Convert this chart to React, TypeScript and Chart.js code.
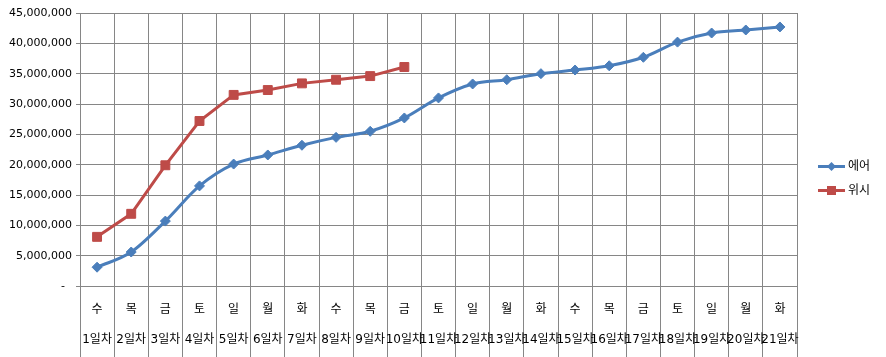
import React, { useEffect, useRef } from 'react';
import { Chart, registerables } from 'chart.js';

Chart.register(...registerables);

const weekdays = ['수', '목', '금', '토', '일', '월', '화', '수', '목', '금', '토', '일', '월', '화', '수', '목', '금', '토', '일', '월', '화'];
const dayLabels = ['1일차', '2일차', '3일차', '4일차', '5일차', '6일차', '7일차', '8일차', '9일차', '10일차', '11일차', '12일차', '13일차', '14일차', '15일차', '16일차', '17일차', '18일차', '19일차', '20일차', '21일차'];
const airValues = [3100000, 5600000, 10700000, 16500000, 20100000, 21600000, 23200000, 24500000, 25500000, 27700000, 31000000, 33300000, 34000000, 35000000, 35600000, 36300000, 37700000, 40200000, 41700000, 42200000, 42700000];
const wishValues = [8100000, 11900000, 19900000, 27200000, 31500000, 32300000, 33400000, 34000000, 34600000, 36100000];

const seriesNames = ['에어', '위시'];
const seriesColors = ['#4A7EBB', '#BE4B48'];
const GRID = '#868686';
const LABEL_FONT = '"DejaVu Sans", "Noto Sans CJK KR", sans-serif';

const legendPlugin = {
  id: 'customLegend',
  afterDraw(chart: any) {
    const ctx = chart.ctx;
    const area = chart.chartArea;
    const x0 = area.right + 21;
    const lineLen = 27;
    ctx.save();
    chart.data.datasets.forEach((ds: any, i: number) => {
      const y = chart.height / 2 - 12 + i * 24;
      ctx.strokeStyle = ds.borderColor;
      ctx.lineWidth = 3;
      ctx.beginPath();
      ctx.moveTo(x0, y);
      ctx.lineTo(x0 + lineLen, y);
      ctx.stroke();
      const cx = x0 + lineLen / 2;
      ctx.fillStyle = ds.borderColor;
      ctx.beginPath();
      if (ds.pointStyle === 'rectRot') {
        ctx.moveTo(cx - 4.5, y);
        ctx.lineTo(cx, y - 4.5);
        ctx.lineTo(cx + 4.5, y);
        ctx.lineTo(cx, y + 4.5);
        ctx.closePath();
      } else {
        ctx.rect(cx - 4.5, y - 4.5, 9, 9);
      }
      ctx.fill();
      ctx.fillStyle = '#000';
      ctx.font = '12px ' + LABEL_FONT;
      ctx.textBaseline = 'middle';
      ctx.textAlign = 'left';
      ctx.fillText(ds.label, x0 + lineLen + 3, y);
    });
    ctx.restore();
  },
};

export default function App() {
  const canvasRef = useRef<HTMLCanvasElement | null>(null);

  useEffect(() => {
    if (!canvasRef.current) return;
    const labels = weekdays.map((w, i) => [w, dayLabels[i]]);
    const chart = new Chart(canvasRef.current, {
      type: 'line',
      data: {
        labels,
        datasets: [
          {
            label: seriesNames[0],
            data: airValues,
            borderColor: seriesColors[0],
            backgroundColor: seriesColors[0],
            borderWidth: 3,
            pointStyle: 'rectRot',
            pointRadius: 5,
            pointBorderWidth: 1,
            cubicInterpolationMode: 'monotone',
          },
          {
            label: seriesNames[1],
            data: wishValues,
            borderColor: seriesColors[1],
            backgroundColor: seriesColors[1],
            borderWidth: 3,
            pointStyle: 'rect',
            pointRadius: 6.3,
            pointBorderWidth: 1,
            tension: 0,
          },
        ],
      },
      options: {
        animation: false,
        responsive: true,
        maintainAspectRatio: false,
        layout: { padding: { top: 13, right: 89, bottom: 0, left: 0 } },
        plugins: {
          legend: { display: false },
          tooltip: { enabled: false },
        },
        scales: {
          x: {
            type: 'category',
            offset: true,
            grid: {
              offset: true,
              color: GRID,
              tickColor: GRID,
              tickLength: 71,
              drawTicks: true,
              lineWidth: 1,
            },
            border: { color: GRID },
            ticks: {
              color: '#000',
              maxRotation: 0,
              autoSkip: false,
              padding: -62,
              font: { family: LABEL_FONT, size: 12, lineHeight: 2.5 },
            },
            afterFit: (scale: any) => {
              scale.height = 71;
            },
          },
          y: {
            min: 0,
            max: 45000000,
            grid: { color: GRID, tickColor: GRID, tickLength: 4 },
            border: { color: GRID },
            ticks: {
              stepSize: 5000000,
              color: '#000',
              padding: 4,
              font: { family: LABEL_FONT, size: 11 },
              callback: (v: any) => (Number(v) === 0 ? '-  ' : Number(v).toLocaleString('en-US')),
            },
            afterFit: (scale: any) => {
              scale.width = 80;
            },
          },
        },
      },
      plugins: [legendPlugin],
    });
    return () => chart.destroy();
  }, []);

  return (
    <div style={{ position: 'fixed', left: 0, top: 0, width: 886, height: 357, background: '#fff' }}>
      <canvas ref={canvasRef} />
    </div>
  );
}
